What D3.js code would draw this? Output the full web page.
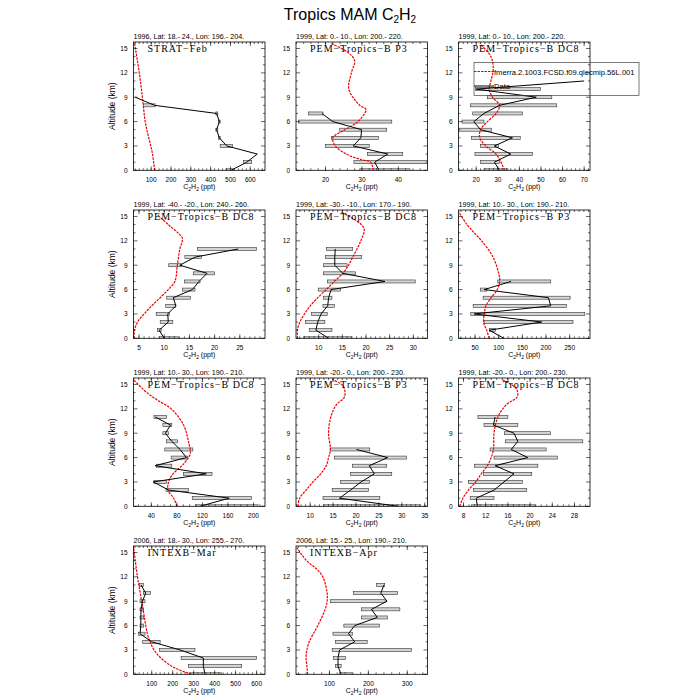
<!DOCTYPE html>
<html><head><meta charset="utf-8">
<script src="https://cdn.jsdelivr.net/npm/d3@7"></script>
<style>body{margin:0;background:#fff}</style>
</head><body><svg id="c" width="700" height="700"></svg>
<script>
// ---------- DATA ----------
const obsAlt = [0,1,2,3,4,5,6,7,8,9,10,11];
// Panel 1 STRAT-Feb
const p1Obs = [503,582,635,481,444,430,444,430,117,20];
const p1Lo  = [477,565,635,448,440,426,440,426,61,20];
const p1Hi  = [514,607,635,511,448,436,448,436,120,20];
const p1ModAlt = [0,2,3,4.5,6,9,12,15.7];
const p1Mod    = [117,107,98,83,70,56,40,16];
// Panel 2 PEM-Tropics-B P3 (0-10N)
const p2Obs = [34.7,33.5,37.1,27.6,29.7,29.9,22.0,19.0];
const p2Lo  = [29.4,27.8,31.5,20.0,21.6,23.9,12.6,15.3];
const p2Hi  = [43.2,48.0,41.2,32.0,34.5,36.8,38.2,19.3];
const p2ModAlt = [0,1,1.3,2,3,4,5,6,7.5,8,10,12,13.5,14.5,15.6];
const p2Mod    = [33.1,32.4,29.9,25.7,22.7,22.0,25.3,28.9,31.1,29.4,26.4,27.1,28.0,26.2,21.6];
// Panel 3 PEM-Tropics-B DC8 (0-10N)
const p3Obs = [30.8,28.4,36.0,28.4,36.8,22.0,18.9,23.6,30.8,47.8,20.0,70.0];
const p3Lo  = [23.6,22.0,19.4,22.0,17.8,11.8,13.4,18.4,17.3,25.2,19.7,70.0];
const p3Hi  = [34.7,30.8,46.1,30.4,40.4,27.1,23.6,41.4,57.3,55.0,49.7,70.0];
const p3ModAlt = [0,1,2,3,4,5,6,7,8,9,10,11,12.5,14,15.6];
const p3Mod    = [33.1,31.5,29.2,24.4,21.7,22.0,25.2,29.2,30.8,27.6,26.0,26.8,27.9,26.8,21.7];
// Panel 4 PEM-Tropics-B DC8 (40S-20S)
const p4Obs = [10.0,9.0,10.8,10.7,12.3,11.8,15.6,16.9,18.5,13.1,16.1,24.7];
const p4Lo  = [9.0,8.7,9.2,8.4,10.3,10.5,13.6,14.0,15.8,10.9,14.1,16.6];
const p4Hi  = [12.8,9.4,11.7,11.0,12.3,15.2,16.1,17.1,20.0,13.4,17.4,28.3];
const p4ModAlt = [0,1,2,3,4,5,6,7,9,11,12.3,13,14,15.3];
const p4Mod    = [4.0,4.1,4.7,6.0,7.5,9.2,10.8,12.1,12.6,13.1,13.6,12.7,10.8,8.5];
// Panel 5 PEM-Tropics-B DC8 (30S-10S)
const p5Obs = [12.1,9.4,9.8,10.5,11.9,12.1,12.6,24.0,15.1,13.4,13.4,13.5];
const p5Lo  = [6.8,8.0,7.2,8.5,10.9,11.0,9.9,11.9,11.0,11.0,11.4,11.6];
const p5Hi  = [17.0,12.8,11.3,11.8,13.3,12.8,14.6,30.4,17.8,16.0,19.1,17.2];
const p5ModAlt = [0,1,2,3,4,5,6,7,8,9,10,12,13.5,14.5,15.5];
const p5Mod    = [5.5,5.5,6.0,7.0,8.2,9.8,11.6,13.3,15.1,16.3,17.2,18.9,19.6,17.9,14.8];
// Panel 6 PEM-Tropics-B P3 (10N-30N)
const p6Obs = [111,80,191,48,210,205,69.5,126];
const p6Lo  = [111,80,69,41,46,67,61,98];
const p6Hi  = [111,93,257,282,243,251,75,210];
const p6ModAlt = [0,1,2,3,4,5,6,7,8,10,12,13,14,15.6];
const p6Mod    = [80,74.5,68,69.5,73,84,97,102,100,88,64,48,33,15];
// Panel 7 PEM-Tropics-B DC8 (10N-30N)
const p7Obs = [116,162,67,43,126,46,95,85,72,62,70,46];
const p7Lo  = [109,104,63,44,90,48,71,61,64,58,58,44];
const p7Hi  = [207,197,98,64,135,72,97,105,81,67,72,64];
const p7ModAlt = [0,1,2,3,4,5,6,6.5,8,10,12,13,14,15.6];
const p7Mod    = [80,75,66,67,74,88,98,101,98,90.5,71,51,33,12];
// Panel 8 PEM-Tropics-B P3 (20S-0)
const p8Obs = [29.3,16.4,18.8,21.1,24.0,22.9,26.9,20.1];
const p8Lo  = [12.9,12.8,14.8,16.6,18.8,19.2,15.3,14.4];
const p8Hi  = [34.0,25.2,22.7,22.9,27.8,26.7,31.0,23.0];
const p8ModAlt = [0,1,2,3,4,5,6,7,9,11,12.5,13.5,14.8,15.6];
const p8Mod    = [7.3,7.7,9.1,10.6,12.3,13.5,14.0,14.4,14.0,14.5,15.7,17.5,17.2,14.8];
// Panel 9 PEM-Tropics-B DC8 (20S-0)
const p9Obs = [10.5,10.3,13.5,15.3,17.1,13.7,19.6,16.6,17.8,17.1,13.4,13.7];
const p9Lo  = [9.4,9.2,9.8,8.9,11.6,10.0,13.5,12.8,15.6,15.4,11.7,10.6];
const p9Hi  = [20.9,13.5,19.4,18.6,20.3,21.4,24.9,22.9,29.5,23.7,17.8,16.0];
const p9ModAlt = [0,1,2,3,4,5,6,7,9,11,12.5,13.5,14.5,15.6];
const p9Mod    = [7.3,7.9,8.9,10.2,11.2,12.3,13.0,13.4,13.5,14.2,15.7,17.7,17.5,14.9];
// Panel 10 INTEXB-Mar
const p10Obs = [354,346,346,235,100,44,48,48,49,56,71,49];
const p10Lo  = [283,275,240,137,57,37,44,44,44,44,60,41];
const p10Hi  = [433,529,600,306,140,68,62,62,60,68,95,60];
const p10ModAlt = [0,0.5,1,2,3,4,5,7,9,12,15.7];
const p10Mod    = [290,235,195,144,111,92,79,65,52,32,13];
// Panel 11 INTEXB-Apr
const p11Obs = [130,122,122,126,165,149,165,223,208,248,232,240];
const p11Lo  = [126,116,110,107,115,109,137,182,182,103,162,221];
const p11Hi  = [158,130,141,311,197,159,229,249,281,243,275,242];
const p11ModAlt = [0,1,2,3,4,6,8,9,10,12,13,14,15.6];
const p11Mod    = [44,42,40,42,48,70,89,94,94,83,66,41,16];

const titles = ["1996, Lat: 18.- 24., Lon: 196.- 204.","1999, Lat: 0.- 10., Lon: 200.- 220.","1999, Lat: 0.- 10., Lon: 200.- 220.",
 "1999, Lat: -40.- -20., Lon: 240.- 260.","1999, Lat: -30.- -10., Lon: 170.- 190.","1999, Lat: 10.- 30., Lon: 190.- 210.",
 "1999, Lat: 10.- 30., Lon: 190.- 210.","1999, Lat: -20.- 0., Lon: 200.- 230.","1999, Lat: -20.- 0., Lon: 200.- 230.",
 "2006, Lat: 18.- 30., Lon: 255.- 270.","2006, Lat: 15.- 25., Lon: 190.- 210."];
const labels = ["STRAT\u2212Feb","PEM\u2212Tropics\u2212B P3","PEM\u2212Tropics\u2212B DC8","PEM\u2212Tropics\u2212B DC8","PEM\u2212Tropics\u2212B DC8",
 "PEM\u2212Tropics\u2212B P3","PEM\u2212Tropics\u2212B DC8","PEM\u2212Tropics\u2212B P3","PEM\u2212Tropics\u2212B DC8","INTEXB\u2212Mar","INTEXB\u2212Apr"];
const xDomains = [[11,674],[11.9,48],[11.8,72.7],[3.9,30],[5.2,33],[15,293],[12,218],[6.9,35.6],[7.1,30.8],[13,640],[14,352]];
const xTicks = [[100,200,300,400,500,600],[20,30,40],[20,30,40,50,60,70],[5,10,15,20,25],[10,15,20,25,30],
 [50,100,150,200,250],[40,80,120,160,200],[10,15,20,25,30,35],[8,12,16,20,24,28],[100,200,300,400,500,600],[100,200,300]];
const xMinor = [20,2,2,1,1,10,10,1,1,20,20];
const yTicks = [0,3,6,9,12,15];
const legendLabels = ["fmerra.2.1003.FCSD.f09.qlecmip.56L.001","Data"];

const obsSets = [[p1Obs,p1Lo,p1Hi],[p2Obs,p2Lo,p2Hi],[p3Obs,p3Lo,p3Hi],[p4Obs,p4Lo,p4Hi],[p5Obs,p5Lo,p5Hi],[p6Obs,p6Lo,p6Hi],
 [p7Obs,p7Lo,p7Hi],[p8Obs,p8Lo,p8Hi],[p9Obs,p9Lo,p9Hi],[p10Obs,p10Lo,p10Hi],[p11Obs,p11Lo,p11Hi]];
const modSets = [[p1ModAlt,p1Mod],[p2ModAlt,p2Mod],[p3ModAlt,p3Mod],[p4ModAlt,p4Mod],[p5ModAlt,p5Mod],[p6ModAlt,p6Mod],
 [p7ModAlt,p7Mod],[p8ModAlt,p8Mod],[p9ModAlt,p9Mod],[p10ModAlt,p10Mod],[p11ModAlt,p11Mod]];

// ---------- DRAW ----------
const svg = d3.select("#c");
const font = "Liberation Sans, Arial, sans-serif";
const W = 131.5, H = 128.3;
const lefts = [133.5, 296, 458.5], tops = [42, 210, 378, 546];

const t = svg.append("text").attr("x",350).attr("y",20).attr("text-anchor","middle")
  .attr("font-family",font).attr("font-size",16);
t.append("tspan").text("Tropics MAM C");
t.append("tspan").text("2").attr("font-size",10).attr("dy",3);
t.append("tspan").text("H").attr("dy",-3);
t.append("tspan").text("2").attr("font-size",10).attr("dy",3);

function panel(i){
  const col = i%3, row = Math.floor(i/3);
  const x0 = lefts[col], y0 = tops[row];
  const g = svg.append("g").attr("transform",`translate(${x0},${y0})`);
  const x = d3.scaleLinear().domain(xDomains[i]).range([0,W]);
  const y = d3.scaleLinear().domain([0,15.8]).range([H,0]);
  const clip = "clip"+i;
  g.append("clipPath").attr("id",clip).append("rect").attr("width",W).attr("height",H);
  const inner = g.append("g").attr("clip-path",`url(#${clip})`);
  const [obs,lo,hi] = obsSets[i];
  const alts = obsAlt.slice(0,obs.length);
  inner.selectAll("rect.e").data(alts).enter().append("rect")
    .attr("x",(d,k)=>x(lo[k])).attr("y",d=>y(d)-1.5)
    .attr("width",(d,k)=>Math.max(0,x(hi[k])-x(lo[k]))).attr("height",3)
    .attr("fill","#d4d4d4").attr("stroke","#333").attr("stroke-width",0.6);
  const [ma,mv] = modSets[i];
  const line = d3.line().curve(d3.curveCatmullRom).x(d=>x(d[1])).y(d=>y(d[0]));
  inner.append("path").datum(ma.map((a,k)=>[a,mv[k]])).attr("d",line)
    .attr("fill","none").attr("stroke","#e00").attr("stroke-width",1.2).attr("stroke-dasharray","2.5,1");
  const ol = d3.line().x(d=>x(d[1])).y(d=>y(d[0]));
  inner.append("path").datum(alts.map((a,k)=>[a,obs[k]])).attr("d",ol)
    .attr("fill","none").attr("stroke","#000").attr("stroke-width",1);
  g.append("rect").attr("width",W).attr("height",H).attr("fill","none").attr("stroke","#000").attr("stroke-width",0.8);
  const minors = d3.range(Math.ceil(xDomains[i][0]/xMinor[i])*xMinor[i], xDomains[i][1], xMinor[i]);
  const tk = g.append("g").attr("stroke","#000").attr("stroke-width",0.6);
  minors.forEach(v=>{ const px=x(v);
    tk.append("line").attr("x1",px).attr("x2",px).attr("y1",H).attr("y2",H-2);
    tk.append("line").attr("x1",px).attr("x2",px).attr("y1",0).attr("y2",2); });
  xTicks[i].forEach(v=>{ const px=x(v);
    tk.append("line").attr("x1",px).attr("x2",px).attr("y1",H).attr("y2",H-4);
    tk.append("line").attr("x1",px).attr("x2",px).attr("y1",0).attr("y2",4);
    g.append("text").attr("x",px).attr("y",H+11.5).attr("text-anchor","middle")
      .attr("font-family",font).attr("font-size",6.5).text(v); });
  d3.range(0,16,1).forEach(v=>{ const py=y(v); const L = (v%3===0)?4:2;
    tk.append("line").attr("x1",0).attr("x2",L).attr("y1",py).attr("y2",py);
    tk.append("line").attr("x1",W).attr("x2",W-L).attr("y1",py).attr("y2",py); });
  yTicks.forEach(v=>{ g.append("text").attr("x",-6).attr("y",y(v)+2.3).attr("text-anchor","end")
      .attr("font-family",font).attr("font-size",6.5).text(v); });
  g.append("text").attr("x",0).attr("y",-3).attr("font-family",font).attr("font-size",7.2).text(titles[i]);
  g.append("text").attr("x",14).attr("y",10).attr("font-family","Liberation Serif, Times New Roman, serif")
    .attr("font-size",10).attr("letter-spacing",1).text(labels[i]);
  const xl = g.append("text").attr("x",W/2).attr("y",H+19).attr("text-anchor","middle")
    .attr("font-family",font).attr("font-size",7);
  xl.append("tspan").text("C"); xl.append("tspan").text("2").attr("font-size",5).attr("dy",1.5);
  xl.append("tspan").text("H").attr("dy",-1.5); xl.append("tspan").text("2").attr("font-size",5).attr("dy",1.5);
  xl.append("tspan").text(" (ppt)").attr("dy",-1.5);
  if(col===0){
    g.append("text").attr("transform",`translate(-19,${H/2}) rotate(-90)`).attr("text-anchor","middle")
      .attr("font-family",font).attr("font-size",8.5).text("Altitude (km)");
  }
  if(i===2){
    const lg = svg.append("g");
    lg.append("rect").attr("x",474).attr("y",62.5).attr("width",165).attr("height",33)
      .attr("fill","none").attr("stroke","#444").attr("stroke-width",0.7);
    lg.append("line").attr("x1",474).attr("x2",494).attr("y1",71.5).attr("y2",71.5)
      .attr("stroke","#e00").attr("stroke-width",1.2).attr("stroke-dasharray","2.5,1");
    lg.append("line").attr("x1",474).attr("x2",494).attr("y1",86).attr("y2",86)
      .attr("stroke","#000").attr("stroke-width",1);
    legendLabels.forEach((s,k)=>lg.append("text").attr("x",494).attr("y",k?89:74.5)
      .attr("font-family",font).attr("font-size",7.6).text(s));
  }
}
for(let i=0;i<11;i++) panel(i);
</script></body></html>
